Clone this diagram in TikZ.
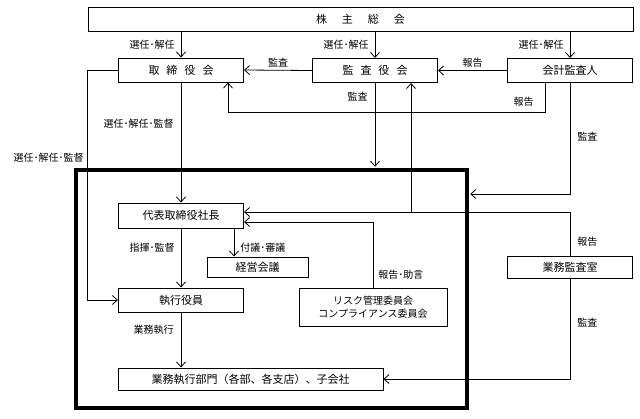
\documentclass[tikz,border=0pt]{standalone}
\usepackage{fontspec}
\setmainfont{Noto Sans CJK JP}
\usetikzlibrary{arrows.meta}
\begin{document}
\begin{tikzpicture}[x=1pt,y=-1pt,
		box/.style={draw,line width=1pt,minimum width=125pt,minimum height=24pt,inner sep=0pt,font=\fontsize{11}{12}\selectfont},
		lbl/.style={font=\fontsize{10}{11}\selectfont,inner sep=1pt},
		arr/.style={->,line width=0.8pt},
		>={Straight Barb[length=5pt,width=9pt]}]
		\useasboundingbox (0,0) rectangle (640,418);
		\node[draw,line width=3.5pt,minimum width=391pt,minimum height=238pt,inner sep=0pt] (frame) at (271.5,289) {};
		\node[box,minimum width=545pt] (gms) at (360.5,19) {株\hspace{15pt}主\hspace{15pt}総\hspace{15pt}会};
		\node[box] (board) at (181,70) {取\hspace{7pt}締\hspace{7pt}役\hspace{7pt}会};
		\node[box] (kansa) at (375,70.5) {監\hspace{7pt}査\hspace{7pt}役\hspace{7pt}会};
		\node[box] (kaikei) at (570,70.5) {会計監査人};
		\node[box,minimum height=25pt] (ceo) at (181,215.5) {代表取締役社長};
		\node[box,minimum width=101pt,minimum height=20pt] (keiei) at (257.5,267) {経営会議};
		\node[box] (shikko) at (181,300) {執行役員};
		\node[box,minimum width=148pt,minimum height=38pt,align=center,font=\fontsize{10}{13}\selectfont] (risk) at (373,307) {リスク管理委員会\\コンプライアンス委員会};
		\node[box,minimum height=22pt] (naibu) at (570,267) {業務監査室};
		\node[box,minimum width=265pt,minimum height=22pt] (bumon) at (250.5,379) {業務執行部門（各部、各支店）、子会社};
		\coordinate (tap) at (411,212);
		\draw[arr] (gms.south -| board.north) -- (board.north) node[lbl,midway,left=5pt]{選任･解任};
		\draw[arr] (gms.south -| kansa.north) -- (kansa.north) node[lbl,midway,left=5pt]{選任･解任};
		\draw[arr] (gms.south -| kaikei.north) -- (kaikei.north) node[lbl,midway,left=5pt]{選任･解任};
		\draw[arr] (kansa.west) -- (board.east) node[lbl,midway,above=2pt]{監査};
		\draw[arr] (kaikei.west) -- (kansa.east) node[lbl,midway,above=2pt]{報告};
		\draw[arr] ([xshift=-25pt]kaikei.south) -- ++(0,29.5) node[lbl,pos=0.65,left=10pt]{報告} -| ([xshift=47pt]board.south);
		\draw[arr,shorten >=1.5pt] (kansa.south) -- (kansa.south |- frame.north) node[lbl,pos=0.16,left=6pt]{監査};
		\draw[arr] (tap) -- (tap |- kansa.south);
		\draw[arr,shorten >=1.5pt] (kaikei.south) |- ([yshift=95pt]frame.east) node[lbl,pos=0.24,right=6pt]{監査};
		\draw[arr] (board.south) -- (ceo.north) node[lbl,pos=0.34,left=6pt]{選任･解任･監督};
		\draw[arr] (board.west) -- ++(-31,0) |- (shikko.west) node[lbl,pos=0.19,left=2pt]{選任･解任･監督};
		\draw[arr] (ceo.south) -- (shikko.north) node[lbl,pos=0.33,left=5pt]{指揮･監督};
		\draw[arr] ([xshift=53pt]ceo.south) -- ([xshift=53pt]ceo.south |- keiei.north) node[lbl,pos=0.69,right=5pt]{付議･審議};
		\draw[arr] (risk.north) |- ([yshift=-6.5pt]ceo.east) node[lbl,pos=0.1,right=4pt]{報告･助言};
		\draw[arr] (naibu.north) |- ([yshift=3.5pt]ceo.east) node[lbl,pos=0.16,right=6pt]{報告};
		\draw[arr] (naibu.south) |- (bumon.east) node[lbl,pos=0.22,right=6pt]{監査};
		\draw[arr] (shikko.south) -- (shikko.south |- bumon.north) node[lbl,pos=0.32,left=6pt]{業務執行};
	\end{tikzpicture}
\end{document}
